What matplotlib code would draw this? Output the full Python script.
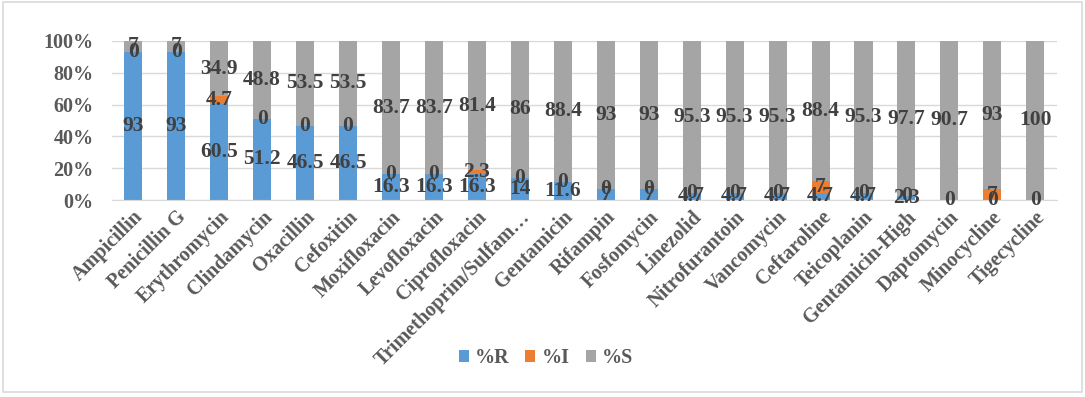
import numpy as np
import matplotlib.pyplot as plt
from matplotlib.patches import Rectangle

drugs = ["Ampicillin", "Penicillin G", "Erythromycin", "Clindamycin", "Oxacillin",
         "Cefoxitin", "Moxifloxacin", "Levofloxacin", "Ciprofloxacin",
         "Trimethoprim/Sulfam\u2026", "Gentamicin", "Rifampin", "Fosfomycin",
         "Linezolid", "Nitrofurantoin", "Vancomycin", "Ceftaroline", "Teicoplanin",
         "Gentamicin-High", "Daptomycin", "Minocycline", "Tigecycline"]
pct_r = [93, 93, 60.5, 51.2, 46.5, 46.5, 16.3, 16.3, 16.3, 14, 11.6, 7, 7,
         4.7, 4.7, 4.7, 4.7, 4.7, 2.3, 0, 0, 0]
pct_i = [0, 0, 4.7, 0, 0, 0, 0, 0, 2.3, 0, 0, 0, 0,
         0, 0, 0, 7, 0, 0, None, 7, None]
pct_s = [7, 7, 34.9, 48.8, 53.5, 53.5, 83.7, 83.7, 81.4, 86, 88.4, 93, 93,
         95.3, 95.3, 95.3, 88.4, 95.3, 97.7, 90.7, 93, 100]

series = [("%R", pct_r, "#5B9BD5"), ("%I", pct_i, "#ED7D31"), ("%S", pct_s, "#A5A5A5")]

plt.rcParams['font.family'] = ['Liberation Serif', 'DejaVu Serif']
plt.rcParams['font.weight'] = 'bold'

fig = plt.figure(figsize=(10.85, 3.97), dpi=100)
fig.patches.append(Rectangle((0.003, 0.012), 0.994, 0.982, transform=fig.transFigure,
                             fill=False, edgecolor="#D9D9D9", linewidth=1.2))
ax = fig.add_axes([0.103, 0.496, 0.871, 0.401])

x = np.arange(len(drugs))
raw = np.array([[np.nan if v is None else v for v in s[1]] for s in series], dtype=float)
totals = np.nansum(raw, axis=0)
norm = np.nan_to_num(raw) / totals * 100

bottom = np.zeros(len(drugs))
handles = []
for k, (name, vals, color) in enumerate(series):
    h = ax.bar(x, norm[k], 0.42, bottom=bottom, color=color, label=name, zorder=2)
    handles.append(h)
    for i in range(len(drugs)):
        if np.isnan(raw[k, i]):
            continue
        txt = f"{raw[k, i]:g}"
        ax.text(x[i], bottom[i] + norm[k, i] / 2, txt, ha='center', va='center',
                fontsize=15.5, color="#404040", fontweight='bold', zorder=3)
    bottom += norm[k]

ax.set_xlim(-0.5, len(drugs) - 0.5)
ax.set_ylim(0, 100)
ax.set_yticks(np.arange(0, 101, 20))
ax.set_yticklabels([f"{v}%" for v in range(0, 101, 20)], fontsize=14.5, color="#595959")
ax.yaxis.grid(True, color="#D9D9D9", linewidth=1, zorder=0)
ax.set_axisbelow(True)
for sp in ["top", "right", "left"]:
    ax.spines[sp].set_visible(False)
ax.spines["bottom"].set_color("#D9D9D9")
ax.tick_params(axis='both', length=0)
ax.tick_params(axis='y', pad=13)
ax.tick_params(axis='x', pad=5)
ax.set_xticks(x)
ax.set_xticklabels(drugs, rotation=45, ha='right', rotation_mode='anchor',
                   fontsize=14.5, color="#595959")

fig.legend(handles=handles, loc='center', bbox_to_anchor=(0.503, 0.098), ncol=3,
           frameon=False, fontsize=14.5, handlelength=0.5, handleheight=0.5,
           columnspacing=0.8, handletextpad=0.3, labelcolor="#595959")

fig.savefig("out.png", dpi=100)
